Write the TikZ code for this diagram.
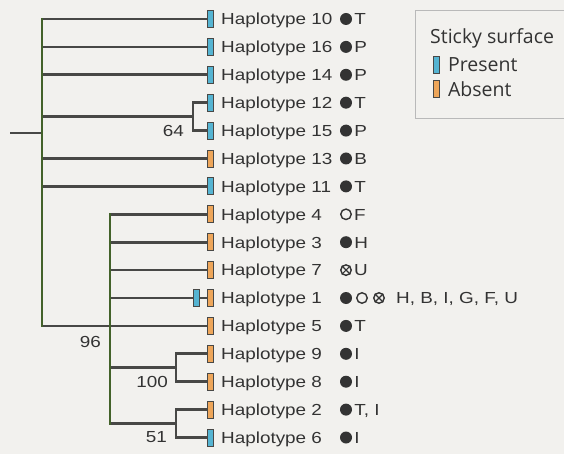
\documentclass[tikz,border=0pt]{standalone}
\usepackage{fontspec}
\newfontfamily\hapfont{Liberation Sans}[FakeStretch=1.18]
\newfontfamily\legfont{Open Sans}
\usetikzlibrary{positioning}
\definecolor{paper}{HTML}{F2F1EE}
\definecolor{ink}{HTML}{333333}
\definecolor{stem}{HTML}{484846}
\definecolor{trunkc}{HTML}{43622A}
\definecolor{blueS}{HTML}{55B4D2}
\definecolor{orangeS}{HTML}{EEA65A}

\begin{document}
\begin{tikzpicture}[x=1pt,y=-1pt,
  every node/.style={text=ink},
  hap/.style={anchor=base west,inner sep=0pt,font=\hapfont\fontsize{16}{18}\selectfont},
  num/.style={anchor=east,inner sep=0pt,font=\hapfont\fontsize{16}{18}\selectfont},
  leg/.style={anchor=west,inner sep=0pt,font=\legfont\fontsize{19.5}{22}\selectfont},
  present/.style={draw=stem,line width=0.8pt,fill=blueS,minimum width=6pt,minimum height=17pt,inner sep=0pt},
  absent/.style={present,fill=orangeS},
  dot/.style={circle,fill=ink,minimum size=12pt,inner sep=0pt},
  ring/.style={circle,draw=ink,line width=1.4pt,minimum size=10.5pt,inner sep=0pt},
  twig/.style={draw=stem,line width=2.7pt},
  trunk/.style={draw=trunkc,line width=2.8pt,line cap=rect}
]
  \fill[paper] (0,0) rectangle (564,454);
  \useasboundingbox (0,0) rectangle (564,454);

  % leaves
  \foreach \n/\i/\c in {10/0/present,16/1/present,14/2/present,12/3/present,15/4/present,
      13/5/absent,11/6/present,4/7/absent,3/8/absent,7/9/absent,1/10/absent,
      5/11/absent,9/12/absent,8/13/absent,2/14/absent,6/15/present} {
    \pgfmathsetmacro\yy{19+27.9*\i}
    \node[\c] (m\n) at (210,\yy) {};
    \node[hap] (h\n) at (221,\yy+5.8) {Haplotype \n};
  }
  \node[present] (m1b) at (196,0 |- m1) {};

  % habitats
  \foreach \n/\t in {10/T,16/P,14/P,12/T,15/P,13/B,11/T,3/H,5/T,9/I,8/I,2/{T, I},6/I} {
    \node[dot] (d\n) at (346,0 |- m\n) {};
    \node[hap] (l\n) at ([xshift=2pt,yshift=-5.8pt]d\n.east) {\t};
  }
  \node[ring] (d4) at (346,0 |- m4) {};
  \node[hap] (l4) at ([xshift=2pt,yshift=-5.8pt]d4.east) {F};
  \node[ring] (d7) at (346,0 |- m7) {};
  \node[hap] (l7) at ([xshift=2pt,yshift=-5.8pt]d7.east) {U};
  \node[dot] (d1) at (346,0 |- m1) {};
  \node[ring] (o1) at (362,0 |- m1) {};
  \node[ring] (x1) at (379,0 |- m1) {};
  \node[hap] (l1) at (396,0 |- h1.base) {H, B, I, G, F, U};
  \foreach \s in {d7,x1}
    \draw[ink,line width=1.2pt] (\s.45) -- (\s.225) (\s.135) -- (\s.315);

  % tree
  \coordinate (root) at (10,133);
  \coordinate (ja) at (42,0 |- m5);
  \coordinate (jb) at (110,0 |- m5);
  \path (m12) -- (m15) coordinate[midway] (mid64);
  \path (m9) -- (m8) coordinate[midway] (mid100);
  \path (m2) -- (m6) coordinate[midway] (mid51);
  \coordinate (j64) at (193,0 |- mid64);
  \coordinate (j100) at (176,0 |- mid100);
  \coordinate (j51) at (176,0 |- mid51);

  \draw[twig] (root) -- (ja |- root);
  \foreach \n in {10,16,14,13,11} \draw[twig] (ja |- m\n) -- (m\n);
  \draw[twig] (ja |- j64) -- (j64);
  \draw[twig] (m12) -| (j64) |- (m15);
  \draw[twig] (ja) -- (m5);
  \foreach \n in {4,3,7} \draw[twig] (jb |- m\n) -- (m\n);
  \draw[twig] (jb |- m1b) -- (m1b) -- (m1);
  \draw[twig] (jb |- j100) -- (j100);
  \draw[twig] (m9) -| (j100) |- (m8);
  \draw[twig] (jb |- j51) -- (j51);
  \draw[twig] (m2) -| (j51) |- (m6);
  \draw[trunk] (ja |- m10) -- (ja);
  \draw[trunk] (jb |- m4) -- (jb |- j51);

  % support values
  \node[num] (s64) at (184,0 |- m15) {64};
  \node[num] (s96) at (101,342) {96};
  \node[num] (s100) at (168,0 |- m8) {100};
  \node[num] (s51) at (167,0 |- m6) {51};

  % legend
  \draw[draw=gray!55,line width=0.8pt] (580,10) -| (415,118) -- (580,118);
  \node[leg] (lt) at (430,38) {Sticky surface};
  \node[present] (lp) at (436.5,65) {};
  \node[leg,right=8pt of lp] (tp) {Present};
  \node[absent] (la) at (436.5,89) {};
  \node[leg,right=8pt of la] (ta) {Absent};
\end{tikzpicture}
\end{document}
